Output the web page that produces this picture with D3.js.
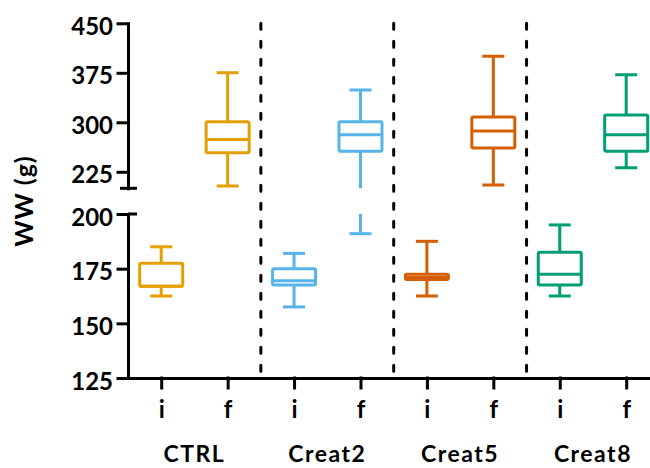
<!DOCTYPE html>
<html>
<head>
<meta charset="utf-8">
<script src="https://cdn.jsdelivr.net/npm/d3@7"></script>
<style>
  body { margin: 0; background: #fff; }
  svg { display: block; font-family: Lato, "Open Sans", sans-serif; font-weight: bold; }
  .axis path, .axis line { stroke: #000; stroke-width: 3; stroke-linecap: square; }
  .axis text { fill: #000; font-size: 24px; font-family: Lato, sans-serif; font-weight: bold; }
</style>
</head>
<body>
<div id="chart"></div>
<script>
/* global d3 */
'use strict';

// groups and time points along the x axis
var groups = ['CTRL', 'Creat2', 'Creat5', 'Creat8'];
var timepoints = ['i', 'f'];
var groupColors = ['#E69F00', '#56B4E9', '#D55E00', '#009E73'];

// box stats per group: [min, q1, median, q3, max]
var initialStats = [
  [162.5, 167, 167, 177.5, 185],
  [157.5, 167.5, 169.5, 175, 182],
  [162.5, 170, 171, 172.5, 187.5],
  [162.5, 167.5, 172.5, 182.5, 195]
];
var finalStats = [
  [203.5, 254, 274, 301, 375],
  [191, 256, 281, 301, 349],
  [205, 261, 287, 308, 400],
  [231, 256, 281, 311, 372]
];

// broken y axis: two segments
var upperTicks = [225, 300, 375, 450];
var lowerTicks = [125, 150, 175, 200];
var upperDomain = [200, 450];
var lowerDomain = [125, 200];

var width = 650, height = 468;
var axisX = 128;

var svg = d3.select('#chart').append('svg')
    .attr('width', width)
    .attr('height', height);

var yUpper = d3.scaleLinear().domain(upperDomain).range([188.3, 23.3]);
var yLower = d3.scaleLinear().domain(lowerDomain).range([378, 214]);

var keys = [];
groups.forEach(function (g) {
  timepoints.forEach(function (t) { keys.push(g + '|' + t); });
});

var x = d3.scalePoint().domain(keys).range([axisX, 659.4]).padding(0.5);
var step = x.step();

// box records
var boxes = [];
groups.forEach(function (g, gi) {
  [initialStats[gi], finalStats[gi]].forEach(function (s, ti) {
    boxes.push({
      key: g + '|' + timepoints[ti],
      color: groupColors[gi],
      min: s[0], q1: s[1], med: s[2], q3: s[3], max: s[4]
    });
  });
});

// clip regions for the two y segments
var defs = svg.append('defs');
defs.append('clipPath').attr('id', 'clip-upper')
  .append('rect').attr('x', 0).attr('y', 0).attr('width', width).attr('height', yUpper(upperDomain[0]));
defs.append('clipPath').attr('id', 'clip-lower')
  .append('rect').attr('x', 0).attr('y', yLower(lowerDomain[1])).attr('width', width)
  .attr('height', yLower(lowerDomain[0]) - yLower(lowerDomain[1]));

// dashed separators between groups
groups.slice(0, -1).forEach(function (g) {
  var sx = x(g + '|f') + step / 2;
  svg.append('line')
      .attr('x1', sx).attr('x2', sx)
      .attr('y1', yUpper(450)).attr('y2', yLower(125))
      .attr('stroke', '#000')
      .attr('stroke-width', 3)
      .attr('stroke-dasharray', '6,12')
      .attr('stroke-linecap', 'round');
});

var boxW = 43, capW = 22;

function drawBoxes(y, clipId) {
  var layer = svg.append('g').attr('clip-path', 'url(#' + clipId + ')');
  var b = layer.selectAll('g.box').data(boxes).enter().append('g')
      .attr('class', 'box')
      .attr('stroke', function (d) { return d.color; })
      .attr('stroke-width', 3)
      .attr('fill', 'none');

  // whiskers
  b.append('line')
      .attr('x1', function (d) { return x(d.key); })
      .attr('x2', function (d) { return x(d.key); })
      .attr('y1', function (d) { return y(d.max); })
      .attr('y2', function (d) { return y(d.q3); });
  b.append('line')
      .attr('x1', function (d) { return x(d.key); })
      .attr('x2', function (d) { return x(d.key); })
      .attr('y1', function (d) { return y(d.q1); })
      .attr('y2', function (d) { return y(d.min); });
  // caps
  b.append('line')
      .attr('x1', function (d) { return x(d.key) - capW / 2; })
      .attr('x2', function (d) { return x(d.key) + capW / 2; })
      .attr('y1', function (d) { return y(d.max); })
      .attr('y2', function (d) { return y(d.max); });
  b.append('line')
      .attr('x1', function (d) { return x(d.key) - capW / 2; })
      .attr('x2', function (d) { return x(d.key) + capW / 2; })
      .attr('y1', function (d) { return y(d.min); })
      .attr('y2', function (d) { return y(d.min); });
  // box
  b.append('rect')
      .attr('x', function (d) { return x(d.key) - boxW / 2; })
      .attr('width', boxW)
      .attr('y', function (d) { return y(d.q3); })
      .attr('height', function (d) { return y(d.q1) - y(d.q3); })
      .attr('rx', 1.5)
      .attr('fill', '#fff');
  // median
  b.append('line')
      .attr('x1', function (d) { return x(d.key) - boxW / 2; })
      .attr('x2', function (d) { return x(d.key) + boxW / 2; })
      .attr('y1', function (d) { return y(d.med); })
      .attr('y2', function (d) { return y(d.med); });
}

drawBoxes(yUpper, 'clip-upper');
drawBoxes(yLower, 'clip-lower');

// y axes (two segments)
function drawYAxis(y, ticks) {
  var g = svg.append('g')
      .attr('class', 'axis y')
      .attr('transform', 'translate(' + axisX + ',0)')
      .call(d3.axisLeft(y).tickValues(ticks).tickSize(10).tickSizeOuter(0).tickPadding(5));
  g.selectAll('text').attr('dy', 11);
  return g;
}
drawYAxis(yUpper, upperTicks);
drawYAxis(yLower, lowerTicks);

// break marks
svg.append('line')
    .attr('x1', axisX - 8).attr('x2', axisX + 9)
    .attr('y1', yUpper(upperDomain[0])).attr('y2', yUpper(upperDomain[0]))
    .attr('stroke', '#000').attr('stroke-width', 3);
svg.append('line')
    .attr('x1', axisX).attr('x2', axisX + 9)
    .attr('y1', yLower(lowerDomain[1])).attr('y2', yLower(lowerDomain[1]))
    .attr('stroke', '#000').attr('stroke-width', 3);

// x axis
var xAxis = svg.append('g')
    .attr('class', 'axis x')
    .attr('transform', 'translate(0,' + yLower(125) + ')')
    .call(d3.axisBottom(x).tickSize(10).tickSizeOuter(0)
      .tickFormat(function (d) { return d.split('|')[1]; }));
xAxis.selectAll('text').attr('y', 40).attr('dy', 0);

// group labels
svg.selectAll('text.group').data(groups).enter().append('text')
    .attr('class', 'group')
    .attr('x', function (g) { return (x(g + '|i') + x(g + '|f')) / 2; })
    .attr('y', 462)
    .attr('text-anchor', 'middle')
    .attr('font-size', 23)
    .attr('letter-spacing', 1.5)
    .text(function (g) { return g; });

// y title
svg.append('text')
    .attr('transform', 'translate(33,201) rotate(-90)')
    .attr('text-anchor', 'middle')
    .attr('font-size', 25)
    .attr('letter-spacing', 1)
    .text('WW (g)');
</script>
</body>
</html>
